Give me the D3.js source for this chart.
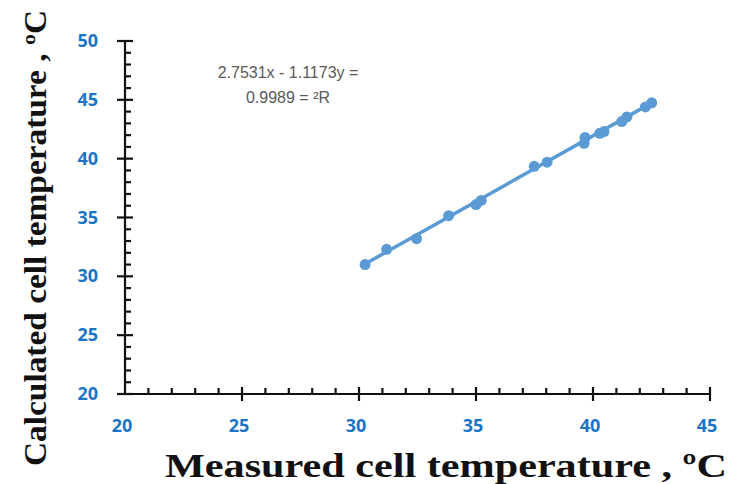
<!DOCTYPE html>
<html lang="en">
<head>
<meta charset="UTF-8">
<script src="https://d3js.org/d3.v7.min.js"></script>
<title>Calculated vs measured cell temperature</title>
<style>
  body { margin: 0; background: #fff; }
</style>
</head>
<body>
<svg id="chart" width="730" height="484"></svg>
<script>
// measured cell temperature (x) and calculated cell temperature (y), degC
var measured   = [30.26, 31.18, 32.46, 33.83, 35.0, 35.22, 37.49, 38.04, 39.62, 39.66, 40.29, 40.47, 41.23, 41.45, 42.24, 42.51];
var calculated = [31.0, 32.3, 33.2, 35.15, 36.1, 36.45, 39.35, 39.7, 41.3, 41.8, 42.15, 42.3, 43.15, 43.55, 44.4, 44.75];
var xTicks = [20, 25, 30, 35, 40, 45];
var yTicks = [20, 25, 30, 35, 40, 45, 50];
// trend line y = 1.1173x - 2.7531
var slope = 1.1173, intercept = -2.7531;
var eqLines = ["2.7531x - 1.1173y =", "0.9989 = ²R"];

var svg = d3.select("#chart");
var blue = "#5b9bd5";

var x = d3.scaleLinear().domain([20, 45]).range([125, 710]);
var y = d3.scaleLinear().domain([20, 50]).range([394, 41]);

// minor ticks (inward)
var minorX = d3.range(21, 45).filter(function(d){ return d % 5 !== 0; });
var minorY = d3.range(21, 50).filter(function(d){ return d % 5 !== 0; });

var axes = svg.append("g").attr("stroke", "#111").attr("stroke-width", 2.2);

axes.append("line").attr("x1", x(20)).attr("x2", x(45)).attr("y1", y(20)).attr("y2", y(20));
axes.append("line").attr("x1", x(20)).attr("x2", x(20)).attr("y1", y(20)).attr("y2", y(50));

axes.selectAll(".mx").data(minorX).enter().append("line")
  .attr("x1", d => x(d)).attr("x2", d => x(d))
  .attr("y1", y(20)).attr("y2", y(20) - 6);
axes.selectAll(".my").data(minorY).enter().append("line")
  .attr("x1", x(20)).attr("x2", x(20) + 6)
  .attr("y1", d => y(d)).attr("y2", d => y(d));

axes.selectAll(".Mx").data(xTicks).enter().append("line")
  .attr("x1", d => x(d)).attr("x2", d => x(d))
  .attr("y1", d => d === 20 ? y(20) + 7 : y(20) - 7).attr("y2", y(20) + 7);
axes.selectAll(".My").data(yTicks).enter().append("line")
  .attr("x1", x(20) - 8).attr("x2", x(20) + 8)
  .attr("y1", d => y(d)).attr("y2", d => y(d));

// tick labels
var lab = svg.append("g")
  .attr("font-family", "'Open Sans', 'Liberation Sans', sans-serif")
  .attr("font-weight", "bold").attr("font-size", 18).attr("fill", "#1b75c6");

lab.selectAll(".xl").data(xTicks).enter().append("text")
  .attr("x", d => x(d) - 3).attr("y", 432)
  .attr("text-anchor", "middle").text(d => d);
lab.selectAll(".yl").data(yTicks).enter().append("text")
  .attr("x", 98).attr("y", d => y(d) + 6)
  .attr("text-anchor", "end").text(d => d);

// trend line
var x0 = d3.min(measured), x1 = d3.max(measured);
svg.append("line")
  .attr("x1", x(x0)).attr("y1", y(slope * x0 + intercept))
  .attr("x2", x(x1)).attr("y2", y(slope * x1 + intercept))
  .attr("stroke", blue).attr("stroke-width", 3.5).attr("stroke-linecap", "round");

// points
svg.append("g").selectAll("circle")
  .data(d3.zip(measured, calculated)).enter().append("circle")
  .attr("cx", d => x(d[0])).attr("cy", d => y(d[1]))
  .attr("r", 5.5).attr("fill", blue);

// equation
svg.append("g").selectAll("text").data(eqLines).enter().append("text")
  .attr("x", 288).attr("y", (d, i) => 78 + i * 25)
  .attr("text-anchor", "middle")
  .attr("font-family", "'Liberation Sans', Arial, sans-serif")
  .attr("font-size", 16).attr("fill", "#595959")
  .text(d => d);

// axis titles
svg.append("text")
  .attr("x", 165).attr("y", 477)
  .attr("font-family", "'Liberation Serif', 'Times New Roman', serif")
  .attr("font-weight", "bold").attr("font-size", 33).attr("fill", "#111")
  .attr("textLength", 562).attr("lengthAdjust", "spacingAndGlyphs")
  .text("Measured cell temperature , ºC");

svg.append("text")
  .attr("transform", "translate(46,466) rotate(-90)")
  .attr("font-family", "'Liberation Serif', 'Times New Roman', serif")
  .attr("font-weight", "bold").attr("font-size", 31).attr("fill", "#111")
  .attr("textLength", 456).attr("lengthAdjust", "spacingAndGlyphs")
  .text("Calculated cell temperature , ºC");
</script>
</body>
</html>
